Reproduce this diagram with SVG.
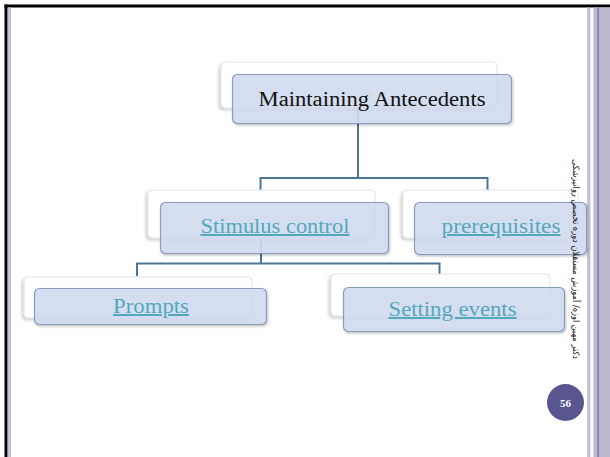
<svg xmlns="http://www.w3.org/2000/svg" width="610" height="457" viewBox="0 0 610 457">
<style>
.back{fill:#ffffff;stroke:#e4e4e8;stroke-width:1;filter:url(#bs)}
.front{fill:#d3ddf1;fill-opacity:0.88;stroke:#8a9cbd;stroke-width:1.2;filter:url(#fs)}
.conn{fill:none;stroke:#4b7595;stroke-width:2}
.t{font-family:"Liberation Serif","Times New Roman",serif;font-size:20px;text-anchor:middle}
.link{fill:#53a9bb;text-decoration:underline}
</style>
<defs>
<filter id="bs" x="-10%" y="-20%" width="120%" height="150%"><feDropShadow dx="-2" dy="2" stdDeviation="1.5" flood-color="#000" flood-opacity="0.18"/></filter>
<filter id="fs" x="-10%" y="-20%" width="120%" height="150%"><feDropShadow dx="1" dy="1.5" stdDeviation="1" flood-color="#000" flood-opacity="0.25"/></filter>
</defs>
<rect width="610" height="457" fill="#ffffff"/>
<!-- slide frame -->
<g id="frame">
<rect x="4.5" y="4.5" width="605.5" height="3" fill="#000"/>
<rect x="4.5" y="4.5" width="3" height="452.5" fill="#000"/>
<rect x="8" y="7.5" width="3" height="449.5" fill="#c3c1d7"/>
<rect x="587" y="7.5" width="3.5" height="449.5" fill="#c4c2d7"/>
<rect x="593.3" y="7.5" width="16.7" height="449.5" fill="#bbb9d0"/>
<rect x="597.3" y="7.5" width="1.6" height="449.5" fill="#7e7bab"/>
</g>
<g id="connectors">
<path class="conn" d="M358 108 V178 M260.5 190 V178 H487.5 V190"/>
<path class="conn" d="M261 238 V263.5 M137 276 V263.5 H439.5 V276"/>
</g>
<g id="root">
<rect class="back" x="221" y="62" width="276" height="46" rx="4"/>
<rect class="front" x="232.5" y="74.5" width="279" height="49" rx="5"/>
<text class="t" x="372" y="106" fill="#111" font-size="21" textLength="227" lengthAdjust="spacingAndGlyphs">Maintaining Antecedents</text>
</g>
<g id="stimulus">
<rect class="back" x="148" y="190" width="227" height="48" rx="4"/>
<rect class="front" x="160.5" y="202.5" width="228" height="51" rx="5"/>
<text class="t link" x="275" y="233" textLength="149" lengthAdjust="spacingAndGlyphs">Stimulus control</text>
</g>
<g id="prerequisites">
<rect class="back" x="403" y="190" width="175" height="48" rx="4"/>
<rect class="front" x="414.5" y="202.5" width="172" height="52" rx="5"/>
<text class="t link" x="501" y="233" textLength="119" lengthAdjust="spacingAndGlyphs">prerequisites</text>
</g>
<g id="prompts">
<rect class="back" x="24" y="277" width="228" height="41" rx="4"/>
<rect class="front" x="34.5" y="288.5" width="232" height="36" rx="5"/>
<text class="t link" x="151" y="313" textLength="76" lengthAdjust="spacingAndGlyphs">Prompts</text>
</g>
<g id="setting">
<rect class="back" x="331" y="274" width="219" height="42" rx="4"/>
<rect class="front" x="343.5" y="287.5" width="221" height="44" rx="5"/>
<text class="t link" x="452.5" y="316" textLength="128" lengthAdjust="spacingAndGlyphs">Setting events</text>
</g>
<g id="side-note">
<text transform="translate(573 259) rotate(90)" x="0" y="0" font-family="'DejaVu Sans','Noto Sans',sans-serif" font-size="9" text-anchor="middle" fill="#111" textLength="200" lengthAdjust="spacingAndGlyphs" direction="rtl">دکتر مهین اوزه/ آموزش مستقلان دوره تخصص روانپزشکی</text>
</g>
<g id="page-number">
<circle cx="565.5" cy="402.5" r="18.5" fill="#58558f"/>
<text x="565.5" y="406.5" font-family="'Liberation Serif',serif" font-size="11" font-weight="bold" fill="#fff" text-anchor="middle">56</text>
</g>
</svg>
